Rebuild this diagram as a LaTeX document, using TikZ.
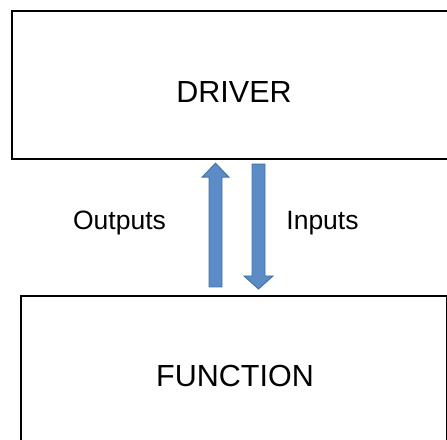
\documentclass[tikz,border=0pt]{standalone}
\usepackage{fontspec}
\setmainfont{Liberation Sans}
\usetikzlibrary{calc}
\definecolor{arrowfill}{HTML}{5B8CC8}
\definecolor{arrowline}{HTML}{41719C}
\tikzset{
  panel/.style={draw=black, line width=2.4bp, fill=white, rectangle, inner sep=0pt},
  title/.style={font=\fontsize{30.5bp}{35bp}\selectfont, inner sep=0pt, anchor=center},
  tag/.style={font=\fontsize{26.5bp}{30bp}\selectfont, inner sep=0pt, anchor=center},
  blockarrow/.style={fill=arrowfill, draw=arrowline, line width=0.9bp, line join=miter},
}
\begin{document}
\begin{tikzpicture}[x=1bp, y=1bp]
  \useasboundingbox (0,0) rectangle (447,440);
  \clip (0,0) rectangle (447,440);

  % the two blocks
  \node[panel, minimum width=437bp, minimum height=148bp] (driver) at (230.5,355) {};
  \node[title] (drivertext) at (234,347.5) {DRIVER};
  \node[panel, line width=2bp, minimum width=425.5bp, minimum height=170bp] (function) at (233.75,59) {};
  \node[title] (functiontext) at (235,64) {FUNCTION};

  % ends of the block arrows, placed against the block edges
  \coordinate (uptail) at ($(function.north) + (-18.25,8)$);
  \coordinate (uptip)  at ($(driver.south) + (-15,-3)$);
  \coordinate (dntail) at ($(driver.south) + (28,-4)$);
  \coordinate (dntip)  at ($(function.north) + (24.75,6)$);

  % Outputs: FUNCTION -> DRIVER
  \draw[blockarrow] let \p1=(uptail), \p2=(uptip) in
    (\x1-6.5bp,\y1) -- (\x1-6.5bp,\y2-14bp) -- (\x1-13.5bp,\y2-14bp) -- (\x2,\y2)
    -- (\x1+13.5bp,\y2-14bp) -- (\x1+6.5bp,\y2-14bp) -- (\x1+6.5bp,\y1) -- cycle;
  % Inputs: DRIVER -> FUNCTION
  \draw[blockarrow] let \p1=(dntail), \p2=(dntip) in
    (\x1-6.5bp,\y1) -- (\x1-6.5bp,\y2+13bp) -- (\x1-14.5bp,\y2+13bp) -- (\x2,\y2)
    -- (\x1+14.5bp,\y2+13bp) -- (\x1+6.5bp,\y2+13bp) -- (\x1+6.5bp,\y1) -- cycle;

  \node[tag] (outputs) at (119.5,216.5) {Outputs};
  \node[tag] (inputs)  at (322.5,216.5) {Inputs};
\end{tikzpicture}
\end{document}
